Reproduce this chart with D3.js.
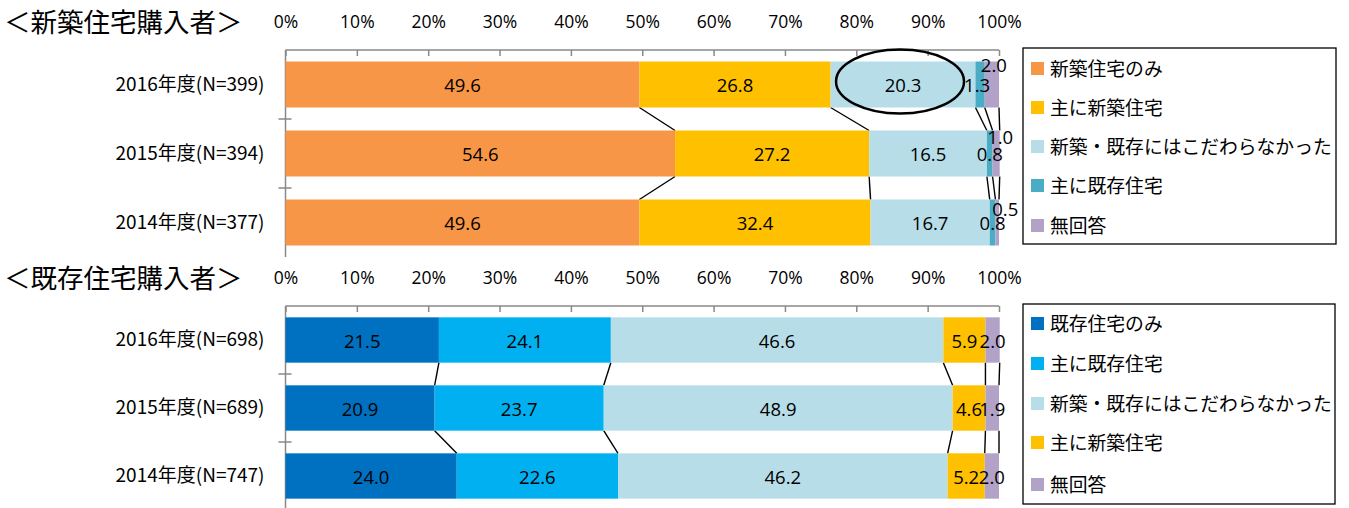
<!DOCTYPE html>
<html><head><meta charset="utf-8">
<script src="https://cdn.jsdelivr.net/npm/d3@7"></script>
<style>
body{margin:0;background:#fff;}
svg{display:block;}
</style></head>
<body>
<svg id="c" width="1349" height="508"></svg>
<script>
// ---------- data ----------
const ticks = [0,10,20,30,40,50,60,70,80,90,100];
const years = ["2016年度","2015年度","2014年度"];

const newTitle = "＜新築住宅購入者＞";
const newN = [399,394,377];
const newSeries = ["新築住宅のみ","主に新築住宅","新築・既存にはこだわらなかった","主に既存住宅","無回答"];
const newColors = ["#F79646","#FFC000","#B7DEE8","#4BACC6","#B2A2C7"];
const newOnly     = [49.6,54.6,49.6];
const newMostly   = [26.8,27.2,32.4];
const newEither   = [20.3,16.5,16.7];
const newUsedMost = [1.3,0.8,0.8];
const newNoAns    = [2.0,1.0,0.5];

const usedTitle = "＜既存住宅購入者＞";
const usedN = [698,689,747];
const usedSeries = ["既存住宅のみ","主に既存住宅","新築・既存にはこだわらなかった","主に新築住宅","無回答"];
const usedColors = ["#0070C0","#00B0F0","#B7DEE8","#FFC000","#B2A2C7"];
const usedOnly    = [21.5,20.9,24.0];
const usedMostly  = [24.1,23.7,22.6];
const usedEither  = [46.6,48.9,46.2];
const usedNewMost = [5.9,4.6,5.2];
const usedNoAns   = [2.0,1.9,2.0];

// label nudges for crowded small values [series][row] -> [dx,dy]
const newNudge = {3:[[-3,0],[0,0],[0,0]],4:[[2,-20],[4,-17],[8,-14]]};
const usedNudge = {};

// ---------- drawing ----------
const svg = d3.select("#c");
const JP = "'Noto Sans CJK JP','Noto Sans',sans-serif";
const NUM = "'Open Sans','Liberation Sans',sans-serif";
const x = d3.scaleLinear().domain([0,100]).range([285.5,999]);

function panel(cfg){
  const {top, bottom, title, n, series, colors, values, nudge, legendBox, legendYs, ellipse} = cfg;
  const g = svg.append("g");
  const y = d3.scaleBand().domain(years).range([top,bottom]).paddingInner(1/3).paddingOuter(1/6);

  // title
  g.append("text").attr("x",4).attr("y",top-30).attr("dominant-baseline","central")
    .style("font-family",JP).style("font-size","26.5px").attr("fill","#000").text(title);

  // top axis
  const ax = g.append("g").attr("transform",`translate(0,${top})`)
    .call(d3.axisTop(x).tickValues(ticks).tickSize(-6).tickPadding(0).tickFormat(d=>d+"%"));
  ax.select(".domain").attr("stroke","#898989").attr("stroke-width",1.5).attr("d",`M${x(0)},${0}H${x(100)}`);
  ax.selectAll(".tick line").attr("stroke","#898989").attr("stroke-width",1.5);
  ax.selectAll(".tick text").attr("y",-28).attr("dy","0.35em").style("font-family",NUM).style("font-size","17.5px").attr("fill","#000");

  // category axis
  const bandStep = y.step();
  const ay = g.append("g").attr("transform",`translate(${x(0)},0)`)
    .call(d3.axisLeft(y).tickSize(0).tickPadding(21).tickFormat((d,i)=>`${d}(N=${n[i]})`));
  ay.select(".domain").attr("stroke","#898989").attr("stroke-width",1.5)
    .attr("d",`M0,${top}V${top+bandStep*3}`);
  ay.selectAll(".tick text").style("font-family",JP).style("font-size","19px").attr("fill","#000");
  for(let k=1;k<3;k++){
    g.append("line").attr("x1",x(0)-7).attr("x2",x(0)+6)
      .attr("y1",top+bandStep*k).attr("y2",top+bandStep*k).attr("stroke","#898989").attr("stroke-width",1.5);
  }

  // stacked
  const rows = years.map((yr,i)=>{const o={year:yr}; series.forEach((s,j)=>o[s]=values[j][i]); return o;});
  const stacked = d3.stack().keys(series)(rows);
  const bh = y.bandwidth();

  // series lines
  stacked.forEach(layer=>{
    for(let i=0;i<2;i++){
      g.append("line")
        .attr("x1",x(layer[i][1])).attr("y1",y(years[i])+bh)
        .attr("x2",x(layer[i+1][1])).attr("y2",y(years[i+1]))
        .attr("stroke","#000").attr("stroke-width",1.4);
    }
  });

  stacked.forEach((layer,j)=>{
    g.append("g").selectAll("rect").data(layer).join("rect")
      .attr("x",d=>x(d[0])).attr("width",d=>x(d[1])-x(d[0]))
      .attr("y",d=>y(d.data.year)).attr("height",bh).attr("fill",colors[j]);
  });
  stacked.forEach((layer,j)=>{
    g.append("g").selectAll("text").data(layer).join("text")
      .attr("x",(d,i)=>(x(d[0])+x(d[1]))/2 + (nudge[j]?nudge[j][i][0]:0))
      .attr("y",(d,i)=>y(d.data.year)+bh/2 + (nudge[j]?nudge[j][i][1]:0))
      .attr("text-anchor","middle").attr("dominant-baseline","central")
      .style("font-family",NUM).style("font-size","18.5px").attr("fill","#000")
      .text(d=>(d[1]-d[0]).toFixed(1));
  });

  if(ellipse){
    const l = stacked[ellipse.series][ellipse.row];
    g.append("ellipse").attr("cx",(x(l[0])+x(l[1]))/2-3).attr("cy",y(years[ellipse.row])+bh/2-3)
      .attr("rx",64).attr("ry",32).attr("fill","none").attr("stroke","#000").attr("stroke-width",2.5);
  }

  // legend
  g.append("rect").attr("x",legendBox[0]).attr("y",legendBox[1]).attr("width",legendBox[2]).attr("height",legendBox[3])
    .attr("fill","#fff").attr("stroke","#000").attr("stroke-width",1.3);
  series.forEach((s,j)=>{
    const cy = legendYs[j];
    g.append("rect").attr("x",legendBox[0]+8).attr("y",cy-5).attr("width",13).attr("height",13).attr("fill",colors[j]);
    g.append("text").attr("x",legendBox[0]+27).attr("y",cy).attr("dominant-baseline","central")
      .style("font-family",JP).style("font-size","18.8px").attr("fill","#000").text(s);
  });
}

panel({top:50,bottom:257,title:newTitle,n:newN,series:newSeries,colors:newColors,
  values:[newOnly,newMostly,newEither,newUsedMost,newNoAns],nudge:newNudge,
  legendBox:[1023,48,313,196],legendYs:[67,106,145,184,224],ellipse:{series:2,row:0}});
panel({top:306,bottom:510,title:usedTitle,n:usedN,series:usedSeries,colors:usedColors,
  values:[usedOnly,usedMostly,usedEither,usedNewMost,usedNoAns],nudge:usedNudge,
  legendBox:[1023,304,312,200],legendYs:[322,362,402,441,483]});
</script>
</body></html>
